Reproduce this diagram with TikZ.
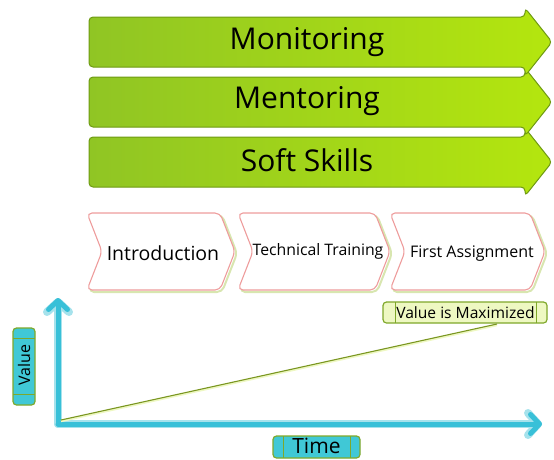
\documentclass[tikz,border=0pt]{standalone}
\usepackage{fontspec}
\setmainfont{Open Sans}
\usetikzlibrary{arrows.meta}
\definecolor{barleft}{HTML}{90C524}
\definecolor{barright}{HTML}{B4E60E}
\definecolor{baredge}{HTML}{6E9A12}
\definecolor{stepedge}{HTML}{EE9C9C}
\definecolor{stepshadow}{HTML}{D8E6B0}
\definecolor{axiscyan}{HTML}{38C0D8}
\definecolor{axisglow}{HTML}{A6E2EC}
\definecolor{tagedge}{HTML}{7FA82A}
\definecolor{tagcyan}{HTML}{40C8D6}
\definecolor{taglight}{HTML}{EEF8C2}
\definecolor{trend}{HTML}{7A9620}
\tikzset{
  x=1pt, y=-1pt,
  greenbar/.style={draw=baredge, line width=1pt, rounded corners=4pt,
    left color=barleft, right color=barright},
  bartext/.style={font=\fontsize{30}{32}\selectfont, text=black, inner sep=0pt},
  stepbox/.style={draw=stepedge, line width=1.1pt, fill=white, rounded corners=5pt},
  stepshade/.style={draw=stepshadow, line width=2pt, rounded corners=5pt},
  steptext/.style={text=black, inner sep=0pt},
  axisglowline/.style={draw=axisglow, line width=8pt, line cap=round, line join=round,
    -{Straight Barb[length=10pt,width=22pt,round]}},
  axisline/.style={draw=axiscyan, line width=5pt, line cap=round, line join=round,
    -{Straight Barb[length=9pt,width=19pt,round]}},
  tag/.style={draw=tagedge, line width=1.2pt, rounded corners=3.5pt},
  tagbar/.style={draw=tagedge, line width=0.8pt},
}
\begin{document}
\begin{tikzpicture}
\useasboundingbox (0,0) rectangle (554,459);

% three green process bars, drawn bottom first so the upper heads overlap
\draw[greenbar] (89,137) -- (525,137) -- (525,128) -- (552,162) -- (525,196) -- (525,187) -- (89,187) -- cycle;
\draw[greenbar] (89,77) -- (525,77) -- (525,68) -- (552,102) -- (525,136) -- (525,127) -- (89,127) -- cycle;
\draw[greenbar] (89,17) -- (525,17) -- (525,8) -- (552,42) -- (525,76) -- (525,67) -- (89,67) -- cycle;
\node[bartext] (monitoring) at (307,42) {Monitoring};
\node[bartext] (mentoring) at (307,101) {Mentoring};
\node[bartext] (softskills) at (307,160) {Soft Skills};

% chevron steps
\foreach \x/\w in {87/148, 238/152, 390/155}{
  \draw[stepshade] (\x+2,215) -- (\x+\w-13,215) -- (\x+\w+2,253.5) -- (\x+\w-13,292) -- (\x+2,292) -- (\x+17,253.5) -- cycle;
  \draw[stepbox] (\x,213) -- (\x+\w-15,213) -- (\x+\w,251.5) -- (\x+\w-15,290) -- (\x,290) -- (\x+15,251.5) -- cycle;
}
\node[steptext, font=\fontsize{19.5}{21}\selectfont] (intro) at (163,253) {Introduction};
\node[steptext, font=\fontsize{15.8}{17}\selectfont] (technical) at (318,251) {Technical Training};
\node[steptext, font=\fontsize{16}{17}\selectfont] (assignment) at (472,254) {First Assignment};

% axes
\coordinate (origin) at (58,424);
\coordinate (vtop) at (58,298);
\coordinate (hend) at (542,424);
\draw[axisglowline] (origin) -- (vtop);
\draw[axisglowline] (origin) -- (hend);
\draw[axisline] (origin) -- (vtop);
\draw[axisline] (origin) -- (hend);

% value tag
\draw[tag, fill=taglight] (383,302) rectangle (547,323);
\draw[tagbar] (395,302) -- (395,323) (536,302) -- (536,323);
\node[inner sep=0pt, font=\fontsize{15.6}{17}\selectfont] (maxed) at (465.5,312.5) {Value is Maximized};

% trend line
\coordinate (trendstart) at (61,420);
\coordinate (trendend) at (497,324);
\draw[taglight, line width=2pt] ([yshift=-1.2pt]trendstart) -- ([yshift=-1.2pt]trendend);
\draw[trend, line width=1.1pt] (trendstart) -- (trendend);

% axis labels
\draw[tag, fill=tagcyan] (13,328) rectangle (35,405);
\draw[tagbar] (13,338) -- (35,338) (13,394) -- (35,394);
\node[inner sep=0pt, rotate=90, font=\fontsize{16}{18}\selectfont] (valuelabel) at (24,365) {Value};

\draw[tag, fill=tagcyan] (273,436) rectangle (360,458);
\draw[tagbar] (283,436) -- (283,458) (350,436) -- (350,458);
\node[inner sep=0pt, font=\fontsize{21}{23}\selectfont] (timelabel) at (316.5,446) {Time};
\end{tikzpicture}
\end{document}
